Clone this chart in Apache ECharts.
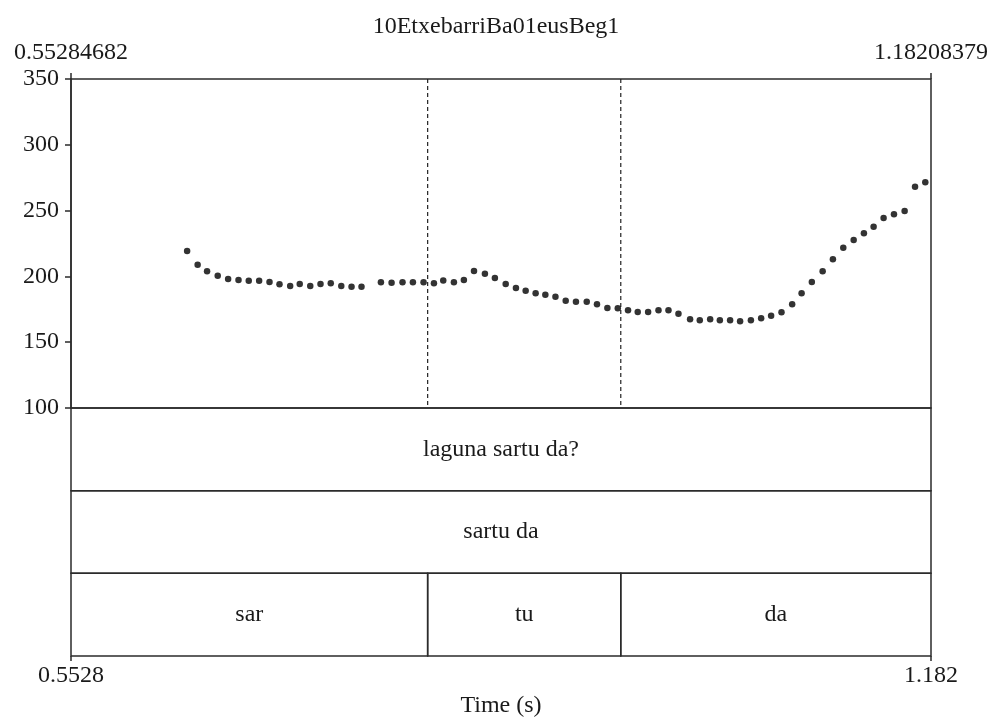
<!DOCTYPE html>
<html>
<head>
<meta charset="utf-8">
<script src="https://cdn.jsdelivr.net/npm/echarts@6/dist/echarts.min.js"></script>
<style>
  html, body { margin: 0; padding: 0; background: #fff; }
  #main { width: 992px; height: 721px; }
</style>
</head>
<body>
<div id="main"></div>
<script>
const fileTitle = '10EtxebarriBa01eusBeg1'
const timeMin = 0.55284682
const timeMax = 1.18208379
const pitchTicks = [100, 150, 200, 250, 300, 350]

// pitch track (s, Hz)
const pitchTimes = [
  0.6378, 0.6455, 0.6524, 0.6602, 0.6678, 0.6754, 0.6829, 0.6905, 0.6981, 0.7054,
  0.7132, 0.7202, 0.7279, 0.7354, 0.7429, 0.7506, 0.7581, 0.7654, 0.7796, 0.7874,
  0.7954, 0.8030, 0.8108, 0.8184, 0.8252, 0.8330, 0.8403, 0.8477, 0.8557, 0.8630,
  0.8709, 0.8784, 0.8855, 0.8928, 0.8999, 0.9073, 0.9148, 0.9223, 0.9302, 0.9377,
  0.9453, 0.9529, 0.9604, 0.9675, 0.9751, 0.9827, 0.9900, 0.9973, 1.0058, 1.0129,
  1.0205, 1.0276, 1.0351, 1.0424, 1.0503, 1.0578, 1.0651, 1.0727, 1.0805, 1.0874,
  1.0949, 1.1028, 1.1103, 1.1179, 1.1255, 1.1330, 1.1401, 1.1474, 1.1550, 1.1628,
  1.1704, 1.1779
]
const pitchValues = [
  219.3, 208.9, 203.9, 200.5, 198.0, 197.3, 196.7, 196.7, 195.7, 194.0,
  192.7, 194.2, 192.7, 194.2, 194.8, 192.7, 192.2, 192.2, 195.5, 195.2,
  195.5, 195.5, 195.5, 194.8, 196.8, 195.5, 197.3, 204.1, 202.1, 198.8,
  194.2, 191.2, 189.1, 187.2, 186.1, 184.6, 181.5, 180.8, 180.8, 178.8,
  176.0, 175.8, 174.2, 172.9, 172.9, 174.2, 174.2, 171.7, 167.4, 166.6,
  167.4, 166.6, 166.6, 165.9, 166.6, 168.2, 170.1, 172.7, 178.8, 187.2,
  195.7, 203.9, 213.0, 221.8, 227.7, 232.7, 237.8, 244.4, 247.2, 249.7,
  268.2, 271.5
]

// annotation tiers, top to bottom
const tierNames = ['sentence', 'words', 'syllables']
const sentenceLabels = ['laguna sartu da?']
const sentenceBounds = [timeMin, timeMax]
const wordLabels = ['sartu da']
const wordBounds = [timeMin, timeMax]
const syllableLabels = ['sar', 'tu', 'da']
const syllableBounds = [timeMin, 0.8138, 0.9551, timeMax]

const FONT = '"Liberation Serif", "DejaVu Serif", serif'
const INK = '#2b2b2b'
const TEXT = '#1a1a1a'
const FS = 24

function intervals(tierIdx, labels, bounds) {
  return labels.map((name, i) => [tierIdx, bounds[i], bounds[i + 1], name])
}

const tierData = [
  ...intervals(0, sentenceLabels, sentenceBounds),
  ...intervals(1, wordLabels, wordBounds),
  ...intervals(2, syllableLabels, syllableBounds)
]

// syllable boundaries drawn as dashed lines over the pitch panel
const innerBounds = syllableBounds.slice(1, -1)

const chart = echarts.init(document.getElementById('main'), null, {renderer: 'canvas'})

chart.setOption({
  animation: false,
  backgroundColor: '#fff',
  textStyle: {fontFamily: FONT},
  title: {
    text: fileTitle,
    left: 'center',
    top: 10,
    textStyle: {fontFamily: FONT, fontSize: FS, fontWeight: 'normal', color: TEXT}
  },
  grid: [
    {left: 71, right: 61, top: 79, height: 329, show: true, borderColor: INK, borderWidth: 1.5, backgroundColor: 'transparent'},
    {left: 71, right: 61, top: 408, height: 248}
  ],
  xAxis: [
    {
      gridIndex: 0, type: 'value', position: 'top', min: timeMin, max: timeMax,
      axisLine: {show: false}, splitLine: {show: false},
      axisTick: {show: true, customValues: [timeMin, timeMax], length: 6, lineStyle: {color: INK, width: 1.5}},
      axisLabel: {
        customValues: [timeMin, timeMax], margin: 14,
        fontFamily: FONT, fontSize: FS, color: TEXT,
        formatter: v => v.toFixed(8)
      }
    },
    {
      gridIndex: 1, type: 'value', min: timeMin, max: timeMax,
      axisLine: {show: false}, splitLine: {show: false},
      axisTick: {show: true, customValues: [timeMin, timeMax], length: 5, lineStyle: {color: INK, width: 1.5}},
      axisLabel: {
        customValues: [timeMin, timeMax], margin: 8,
        fontFamily: FONT, fontSize: FS, color: TEXT,
        formatter: v => v.toPrecision(4)
      },
      name: 'Time (s)', nameLocation: 'middle', nameGap: 38,
      nameTextStyle: {fontFamily: FONT, fontSize: FS, color: TEXT}
    }
  ],
  yAxis: [
    {
      gridIndex: 0, type: 'value', min: 100, max: 350, interval: 50,
      axisLine: {show: true, lineStyle: {color: INK, width: 1.5}},
      axisTick: {show: true, length: 6, lineStyle: {color: INK, width: 1.5}},
      splitLine: {show: false},
      axisLabel: {
        margin: 12, fontFamily: FONT, fontSize: FS, color: TEXT,
        customValues: pitchTicks
      }
    },
    {
      gridIndex: 1, type: 'category', data: tierNames, inverse: true,
      axisLine: {show: false}, axisTick: {show: false}, axisLabel: {show: false}, splitLine: {show: false}
    }
  ],
  series: [
    {
      type: 'scatter', xAxisIndex: 0, yAxisIndex: 0,
      symbol: 'circle', symbolSize: 6.5,
      itemStyle: {color: '#000'},
      data: pitchTimes.map((t, i) => [t, pitchValues[i]])
    },
    {
      type: 'custom', xAxisIndex: 0, yAxisIndex: 0,
      silent: true,
      data: innerBounds,
      renderItem: (params, api) => {
        const top = api.coord([api.value(0), 350])
        const bottom = api.coord([api.value(0), 100])
        return {
          type: 'line',
          shape: {x1: top[0], y1: top[1], x2: bottom[0], y2: bottom[1]},
          style: {stroke: '#222', lineWidth: 1.2, lineDash: [4, 3]}
        }
      }
    },
    {
      type: 'custom', xAxisIndex: 1, yAxisIndex: 1,
      silent: true,
      data: tierData,
      renderItem: (params, api) => {
        const start = api.coord([api.value(1), api.value(0)])
        const end = api.coord([api.value(2), api.value(0)])
        const h = api.size([0, 1])[1]
        return {
          type: 'rect',
          shape: {x: start[0], y: start[1] - h / 2, width: end[0] - start[0], height: h},
          style: {fill: 'transparent', stroke: INK, lineWidth: 1.5},
          textContent: {
            style: {text: tierData[params.dataIndex][3], fill: TEXT, font: FS + 'px ' + FONT}
          },
          textConfig: {position: 'inside'}
        }
      }
    }
  ]
})
</script>
</body>
</html>
